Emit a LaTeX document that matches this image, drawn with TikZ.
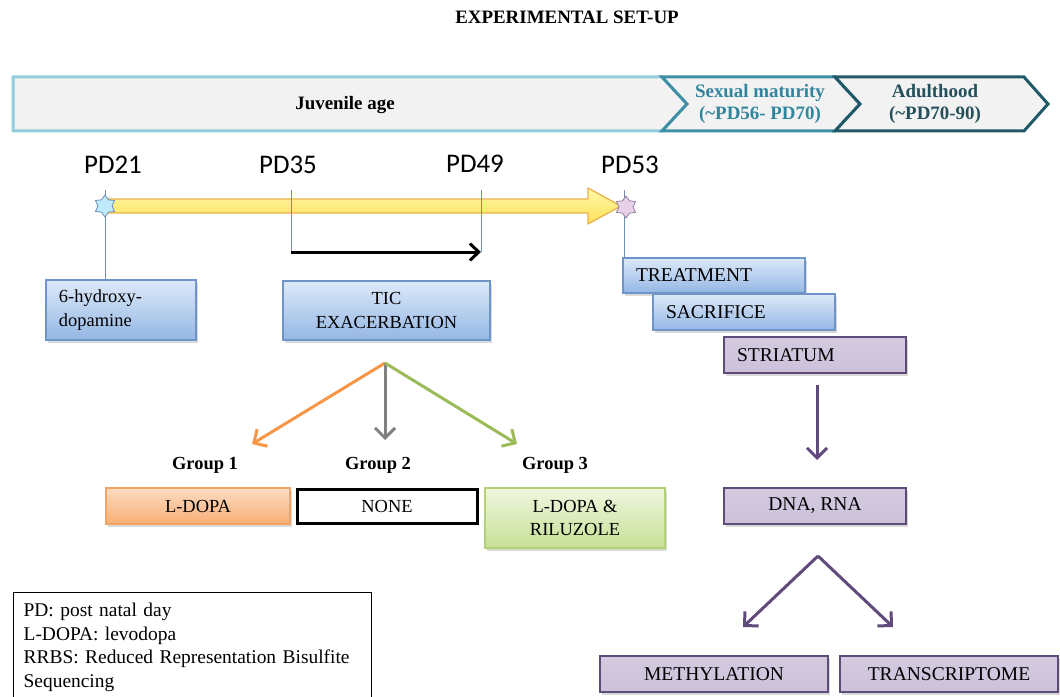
\documentclass[tikz,border=0pt]{standalone}
\usepackage{fontspec}
\setmainfont{Liberation Serif}
\newfontfamily\pdfont{Carlito}
\newfontfamily\boxfont{Liberation Serif}
\usetikzlibrary{arrows.meta,shapes.geometric,shadows}

\definecolor{juvLine}{HTML}{93CDDD}
\definecolor{sexLine}{HTML}{3E8FA3}
\definecolor{adultLine}{HTML}{215968}
\definecolor{bandFill}{HTML}{F2F2F2}
\definecolor{sexText}{HTML}{31859C}
\definecolor{adultText}{HTML}{24505C}
\definecolor{blueTop}{HTML}{DDE9F9}
\definecolor{blueBot}{HTML}{94B7E4}
\definecolor{blueLine}{HTML}{6F94C8}
\definecolor{purpFill}{HTML}{CCC1DA}
\definecolor{purpLine}{HTML}{5F4B78}
\definecolor{orTop}{HTML}{FCDCC2}
\definecolor{orBot}{HTML}{F8AE76}
\definecolor{orLine}{HTML}{F2A465}
\definecolor{grTop}{HTML}{F0F7E0}
\definecolor{grBot}{HTML}{C6E096}
\definecolor{grLine}{HTML}{B3D07A}
\definecolor{yelTop}{HTML}{FFF8A8}
\definecolor{yelBot}{HTML}{FFE15A}
\definecolor{yelLine}{HTML}{E8B24E}
\definecolor{tickLine}{HTML}{6D8DB5}
\definecolor{arrOrange}{HTML}{F79646}
\definecolor{arrGreen}{HTML}{9BBB59}
\definecolor{arrGray}{HTML}{808080}
\definecolor{arrPurple}{HTML}{604A7B}

\begin{document}
\begin{tikzpicture}[x=1bp,y=-1bp,
  every node/.style={font=\boxfont\fontsize{18.5}{24}\selectfont, text=black},
  box/.style={draw, line width=1.2bp, inner sep=0pt, align=center,
    drop shadow={shadow xshift=2bp, shadow yshift=-2.5bp, opacity=0.3}},
  bigtext/.style={font=\boxfont\fontsize{19.6}{24}\selectfont},
  bluebox/.style={box, draw=blueLine, top color=blueTop, bottom color=blueBot},
  purpbox/.style={box, bigtext, draw=purpLine, top color=purpFill!85!white, bottom color=purpFill},
  leftbox/.style={align=left, inner xsep=13bp, inner ysep=0pt},
  band/.style={fill=bandFill, line width=3bp, line join=miter},
  bandtext/.style={font=\boxfont\bfseries\fontsize{19}{22}\selectfont, align=center},
  tick/.style={draw=tickLine, line width=0.9bp},
  pdlabel/.style={font=\pdfont\fontsize{27}{30}\selectfont},
  grouplabel/.style={font=\boxfont\bfseries\fontsize{18.5}{22}\selectfont},
  split/.style={line width=3bp, -{Straight Barb[length=10bp,width=20bp,line width=3bp]}},
  startip/.style={star, star points=6, star point ratio=1.55, minimum size=22bp, inner sep=0pt, line width=0.8bp}
]
\useasboundingbox (0,0) rectangle (1060,697);
\clip (0,0) rectangle (1060,697);

% title
\node[font=\boxfont\bfseries\fontsize{19}{21}\selectfont] (title) at (567,17) {EXPERIMENTAL SET-UP};

% age band
\draw[band, draw=juvLine] (13,77) -- (662,77) -- (687,104) -- (662,131) -- (13,131) -- cycle;
\draw[band, draw=sexLine] (662,77) -- (835,77) -- (860,104) -- (835,131) -- (662,131) -- (687,104) -- cycle;
\draw[band, draw=adultLine] (835,77) -- (1024,77) -- (1048,104) -- (1024,131) -- (835,131) -- (860,104) -- cycle;
\node[bandtext] (juv) at (345,105) {Juvenile age};
\node[bandtext, text=sexText] (sex) at (760,104) {Sexual maturity\\(\textasciitilde PD56- PD70)};
\node[bandtext, text=adultText] (adult) at (935,104) {Adulthood\\(\textasciitilde PD70-90)};

% timeline
\draw[draw=yelLine, line width=1.3bp, top color=yelTop, bottom color=yelBot, line join=round]
  (104,199) -- (588,199) -- (588,188) -- (621,206) -- (588,224) -- (588,213) -- (104,213) -- cycle;

\node[pdlabel] (pd21) at (113,165) {PD21};
\node[pdlabel] (pd35) at (288,165) {PD35};
\node[pdlabel] (pd49) at (475,164) {PD49};
\node[pdlabel] (pd53) at (630,165) {PD53};

% boxes
\node[bluebox, leftbox, text width=124bp, minimum height=60bp] (hydroxy) at (121,310) {6-hydroxy-\\dopamine};
\node[bluebox, minimum width=207bp, minimum height=59bp] (tic) at (386.5,310.5) {TIC\\EXACERBATION};
\node[bluebox, bigtext, leftbox, text width=156bp, minimum height=35bp] (treat) at (714,275.5) {TREATMENT};
\node[bluebox, bigtext, leftbox, text width=156bp, minimum height=36bp] (sacr) at (744,312) {SACRIFICE};
\node[purpbox, leftbox, text width=156bp, minimum height=36bp] (stri) at (815,355) {STRIATUM};
\node[purpbox, minimum width=182bp, minimum height=36bp] (dna) at (815,506) {DNA, RNA};
\node[purpbox, minimum width=228bp, minimum height=36bp] (meth) at (714,674) {METHYLATION};
\node[purpbox, minimum width=218bp, minimum height=36bp] (trans) at (949,674) {TRANSCRIPTOME};

\node[box, draw=orLine, top color=orTop, bottom color=orBot, minimum width=184bp, minimum height=36bp] (ldopa) at (198,506) {L-DOPA};
\node[draw=black, line width=3bp, fill=white, minimum width=180bp, minimum height=34bp, inner sep=0pt] (none) at (387,506) {NONE};
\node[box, draw=grLine, top color=grTop, bottom color=grBot, minimum width=180bp, minimum height=60bp] (ril) at (575,518) {L-DOPA \&\\RILUZOLE};

\node[grouplabel] (g1) at (205,465) {Group 1};
\node[grouplabel] (g2) at (378,465) {Group 2};
\node[grouplabel] (g3) at (555,465) {Group 3};

% day markers
\coordinate (t21) at (105,190);
\coordinate (t35) at (291,190);
\coordinate (t49) at (481,190);
\coordinate (t53) at (624,190);
\coordinate (e35) at (291,252);
\coordinate (e49) at (481,252);
\draw[tick] (t21) -- (t21 |- hydroxy.north);
\draw[tick] (t35) -- (e35);
\draw[tick] (t49) -- (e49);
\draw[tick] (t53) -- (t53 |- treat.north);
\node[startip, draw=tickLine, fill=cyan!25] (s21) at (105,206) {};
\node[startip, draw=arrPurple!70, fill=violet!18] (s53) at (626,207) {};

% exacerbation period
\draw[line width=3bp, -{Straight Barb[length=9bp,width=17bp,line width=3bp]}] (e35) -- (e49);

% treatment groups
\coordinate (ticsplit) at (385,363);
\coordinate (g1tip) at (252,444);
\coordinate (g2tip) at (385,440);
\coordinate (g3tip) at (517,444);
\draw[split, arrOrange] (ticsplit) -- (g1tip);
\draw[split, arrGray] (ticsplit) -- (g2tip);
\draw[split, arrGreen] (ticsplit) -- (g3tip);

% tissue processing
\coordinate (striout) at (817,385);
\coordinate (dnain) at (817,460);
\draw[split, arrPurple] (striout) -- (dnain);
\coordinate (dnasplit) at (818,556);
\coordinate (methtip) at (743,627);
\coordinate (transtip) at (893,627);
\draw[split, arrPurple] (dnasplit) -- (methtip);
\draw[split, arrPurple] (dnasplit) -- (transtip);

% abbreviations
\node[draw=black, line width=1.3bp, anchor=north west, align=left, text width=338bp,
      inner xsep=10bp, inner ysep=10bp, font=\boxfont\fontsize{19.5}{24}\selectfont] (legend) at (13,592)
  {PD: post natal day\\L-DOPA: levodopa\\RRBS: Reduced Representation Bisulfite\\Sequencing};
\end{tikzpicture}
\end{document}
